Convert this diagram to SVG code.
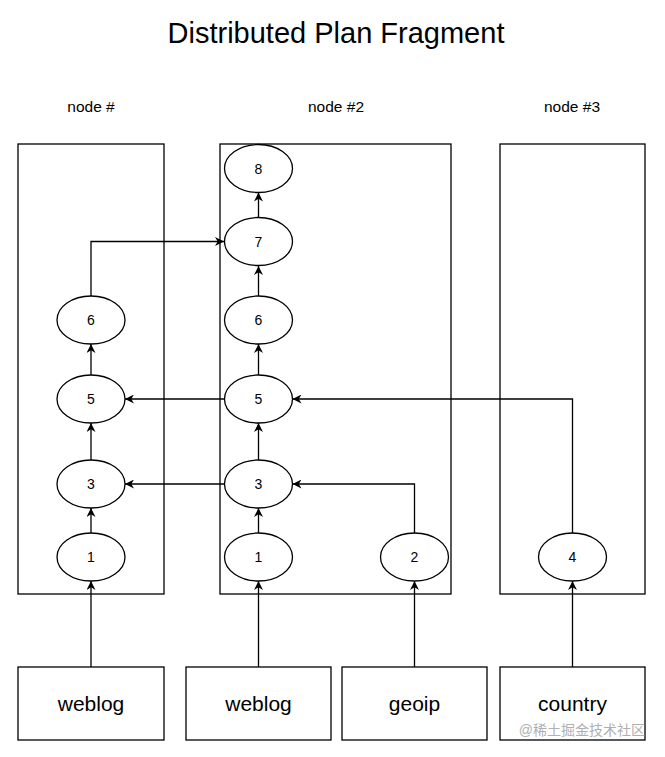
<svg xmlns="http://www.w3.org/2000/svg" width="665" height="757" viewBox="0 0 665 757">
<style>
  text { font-family: "Liberation Sans", Arial, sans-serif; fill: #000; text-anchor: middle; }
  .title { font-size: 29px; }
  .lbl { font-size: 15.5px; }
  .num { font-size: 14px; }
  .src { font-size: 21px; }
  .frame, .box { fill: #fff; stroke: #000; stroke-width: 1.3; }
  ellipse { fill: #fff; stroke: #000; stroke-width: 1.3; }
  .edge { fill: none; stroke: #000; stroke-width: 1.3; marker-end: url(#arr); }
  .wm { font-family: "Liberation Sans", "Noto Sans CJK SC", sans-serif; font-size: 14px; fill: #b0b0b0; text-anchor: end; }
</style>
<defs>
  <marker id="arr" viewBox="0 0 10 10" refX="10" refY="5" markerWidth="9" markerHeight="9" markerUnits="userSpaceOnUse" orient="auto">
    <path d="M0,0 L10,5 L0,10 L3,5 Z" fill="#000"/>
  </marker>
</defs>
<rect width="665" height="757" fill="#fff"/>
<text class="title" x="336" y="43">Distributed Plan Fragment</text>

<g id="frame1"><rect class="frame" x="18" y="144" width="146" height="450"/><text class="lbl" x="91" y="112">node #</text></g>
<g id="frame2"><rect class="frame" x="220" y="144" width="231" height="450"/><text class="lbl" x="336" y="112">node #2</text></g>
<g id="frame3"><rect class="frame" x="500" y="144" width="145" height="450"/><text class="lbl" x="572" y="112">node #3</text></g>

<g id="connectors">
  <path class="edge" d="M91,667 V581"/>
  <path class="edge" d="M258.5,667 V581"/>
  <path class="edge" d="M414.5,667 V581"/>
  <path class="edge" d="M572.5,667 V581"/>
  <path class="edge" d="M91,533 V508"/>
  <path class="edge" d="M91,460 V423"/>
  <path class="edge" d="M91,375 V344"/>
  <path class="edge" d="M91,296 V241.5 H224"/>
  <path class="edge" d="M258.5,533 V508"/>
  <path class="edge" d="M258.5,460 V423"/>
  <path class="edge" d="M258.5,375 V344"/>
  <path class="edge" d="M258.5,296 V266"/>
  <path class="edge" d="M258.5,218 V192.5"/>
  <path class="edge" d="M224,399 H125"/>
  <path class="edge" d="M224,484 H125"/>
  <path class="edge" d="M414.5,533 V484 H292.5"/>
  <path class="edge" d="M572.5,533 V399 H292.5"/>
</g>

<g id="n1a"><ellipse cx="91" cy="557" rx="34" ry="24"/><text class="num" x="91" y="562">1</text></g>
<g id="n3a"><ellipse cx="91" cy="484" rx="34" ry="24"/><text class="num" x="91" y="489">3</text></g>
<g id="n5a"><ellipse cx="91" cy="399" rx="34" ry="24"/><text class="num" x="91" y="404">5</text></g>
<g id="n6a"><ellipse cx="91" cy="320" rx="34" ry="24"/><text class="num" x="91" y="325">6</text></g>

<g id="n1b"><ellipse cx="258.5" cy="557" rx="34" ry="24"/><text class="num" x="258.5" y="562">1</text></g>
<g id="n3b"><ellipse cx="258.5" cy="484" rx="34" ry="24"/><text class="num" x="258.5" y="489">3</text></g>
<g id="n5b"><ellipse cx="258.5" cy="399" rx="34" ry="24"/><text class="num" x="258.5" y="404">5</text></g>
<g id="n6b"><ellipse cx="258.5" cy="320" rx="34" ry="24"/><text class="num" x="258.5" y="325">6</text></g>
<g id="n7"><ellipse cx="258.5" cy="241.5" rx="34" ry="24"/><text class="num" x="258.5" y="246.5">7</text></g>
<g id="n8"><ellipse cx="258.5" cy="168.5" rx="34" ry="24"/><text class="num" x="258.5" y="173.5">8</text></g>
<g id="n2"><ellipse cx="414.5" cy="557" rx="34" ry="24"/><text class="num" x="414.5" y="562">2</text></g>
<g id="n4"><ellipse cx="572.5" cy="557" rx="34" ry="24"/><text class="num" x="572.5" y="562">4</text></g>

<g id="src-weblog1"><rect class="box" x="18" y="667" width="146" height="73"/><text class="src" x="91" y="711">weblog</text></g>
<g id="src-weblog2"><rect class="box" x="186" y="667" width="145" height="73"/><text class="src" x="258.5" y="711">weblog</text></g>
<g id="src-geoip"><rect class="box" x="342" y="667" width="145" height="73"/><text class="src" x="414.5" y="711">geoip</text></g>
<g id="src-country"><rect class="box" x="500" y="667" width="145" height="73"/><text class="src" x="572.5" y="711">country</text></g>

<text class="wm" x="645" y="735">@稀土掘金技术社区</text>
</svg>
